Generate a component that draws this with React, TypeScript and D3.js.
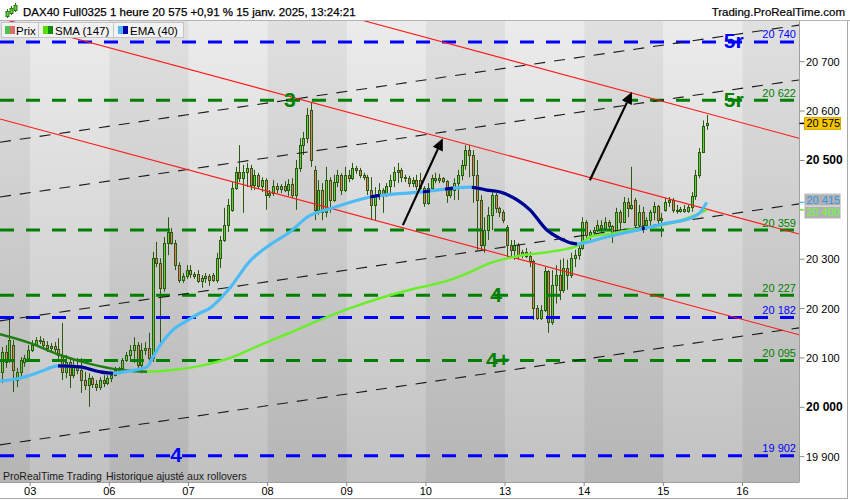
import React from 'react';
import * as d3 from 'd3';

// ---------------- data ----------------
const dayLabels = ['03', '06', '07', '08', '09', '10', '13', '14', '15', '16'];

// hourly candles [open, high, low, close]
const d02 = [
  [20072, 20122, 20049, 20112], [20112, 20126, 20080, 20092], [20096, 20181, 20090, 20136], [20126, 20136, 20031, 20076],
  [20055, 20080, 20041, 20072], [20072, 20102, 20061, 20096], [20092, 20106, 20082, 20100], [20100, 20126, 20096, 20116],
];
const d03 = [
  [20116, 20136, 20112, 20126], [20126, 20142, 20124, 20136], [20136, 20144, 20128, 20134], [20134, 20140, 20118, 20126],
  [20126, 20134, 20112, 20120], [20120, 20130, 20110, 20124], [20124, 20132, 20112, 20118], [20118, 20140, 20096, 20106],
  [20106, 20171, 20055, 20072], [20072, 20106, 20059, 20092], [20092, 20102, 20039, 20065], [20065, 20096, 20059, 20086],
  [20086, 20100, 20067, 20076], [20076, 20100, 20029, 20055], [20055, 20072, 20035, 20045], [20045, 20069, 20001, 20059],
  [20059, 20063, 20039, 20047], [20047, 20055, 20033, 20041], [20041, 20061, 20035, 20055], [20055, 20065, 20041, 20049],
  [20049, 20065, 20045, 20059],
];
const d06 = [
  [20059, 20072, 20051, 20065], [20065, 20082, 20063, 20076], [20076, 20082, 20067, 20080], [20080, 20100, 20078, 20096],
  [20096, 20112, 20092, 20106], [20106, 20126, 20096, 20116], [20116, 20142, 20090, 20126], [20126, 20132, 20072, 20086],
  [20086, 20130, 20069, 20116], [20116, 20132, 20106, 20120], [20120, 20151, 20092, 20100], [20100, 20315, 20092, 20302],
  [20302, 20335, 20284, 20292], [20292, 20302, 20130, 20242], [20242, 20345, 20234, 20333], [20333, 20385, 20308, 20355],
  [20355, 20363, 20329, 20333], [20333, 20339, 20278, 20288], [20288, 20294, 20252, 20258], [20258, 20272, 20252, 20266],
  [20266, 20288, 20260, 20278],
];
const d07 = [
  [20278, 20288, 20262, 20270], [20270, 20274, 20260, 20266], [20270, 20278, 20252, 20256], [20256, 20268, 20242, 20262],
  [20262, 20272, 20252, 20266], [20266, 20270, 20246, 20258], [20268, 20272, 20254, 20258], [20258, 20313, 20252, 20302],
  [20302, 20347, 20282, 20339], [20339, 20404, 20335, 20369], [20369, 20422, 20355, 20410], [20400, 20456, 20396, 20444],
  [20444, 20487, 20440, 20477], [20477, 20531, 20456, 20464], [20464, 20491, 20394, 20477], [20477, 20495, 20446, 20485],
  [20485, 20491, 20440, 20450], [20450, 20481, 20440, 20471], [20471, 20475, 20442, 20448], [20448, 20466, 20436, 20460],
  [20460, 20464, 20400, 20430],
];
const d08 = [
  [20430, 20440, 20424, 20434], [20434, 20460, 20428, 20448], [20448, 20454, 20434, 20442], [20442, 20452, 20434, 20448],
  [20448, 20458, 20436, 20440], [20440, 20462, 20428, 20452], [20452, 20464, 20424, 20430], [20430, 20501, 20400, 20485],
  [20485, 20545, 20477, 20531], [20531, 20558, 20511, 20545], [20545, 20606, 20535, 20592], [20602, 20618, 20487, 20501],
  [20481, 20489, 20379, 20400], [20400, 20460, 20390, 20440], [20440, 20454, 20379, 20396], [20396, 20487, 20385, 20460],
  [20460, 20466, 20394, 20420], [20420, 20471, 20416, 20456], [20456, 20481, 20446, 20471], [20471, 20474, 20430, 20440],
  [20440, 20487, 20436, 20471],
];
const d09 = [
  [20471, 20481, 20456, 20464], [20464, 20495, 20460, 20485], [20485, 20489, 20473, 20481], [20481, 20485, 20464, 20471],
  [20471, 20475, 20460, 20466], [20466, 20471, 20430, 20440], [20440, 20466, 20379, 20410], [20410, 20446, 20379, 20430],
  [20430, 20454, 20420, 20440], [20440, 20444, 20394, 20430], [20430, 20454, 20426, 20448], [20448, 20471, 20434, 20460],
  [20460, 20487, 20446, 20477], [20477, 20495, 20454, 20481], [20481, 20485, 20456, 20466], [20466, 20471, 20456, 20464],
  [20464, 20469, 20446, 20454], [20454, 20466, 20446, 20460], [20460, 20471, 20440, 20448], [20460, 20475, 20440, 20444],
  [20444, 20448, 20406, 20414],
];
const d10 = [
  [20414, 20454, 20410, 20444], [20444, 20471, 20440, 20464], [20464, 20475, 20454, 20460], [20460, 20473, 20454, 20464],
  [20464, 20466, 20454, 20458], [20458, 20460, 20414, 20430], [20430, 20446, 20424, 20440], [20440, 20464, 20420, 20454],
  [20454, 20481, 20420, 20471], [20471, 20501, 20460, 20491], [20491, 20531, 20481, 20521], [20521, 20531, 20466, 20511],
  [20511, 20521, 20414, 20471], [20471, 20501, 20319, 20420], [20420, 20430, 20319, 20329], [20329, 20385, 20313, 20359],
  [20359, 20406, 20339, 20390], [20390, 20440, 20359, 20430], [20430, 20440, 20394, 20404], [20404, 20406, 20385, 20396],
  [20396, 20400, 20373, 20379],
];
const d13 = [
  [20365, 20369, 20304, 20329], [20329, 20339, 20304, 20319], [20319, 20339, 20299, 20329], [20329, 20333, 20299, 20308],
  [20308, 20319, 20302, 20315], [20315, 20323, 20302, 20306], [20306, 20315, 20284, 20296], [20296, 20299, 20177, 20201],
  [20201, 20207, 20177, 20181], [20181, 20207, 20177, 20197], [20197, 20284, 20193, 20276], [20276, 20278, 20151, 20173],
  [20173, 20278, 20167, 20248], [20248, 20288, 20210, 20268], [20268, 20299, 20217, 20238], [20238, 20302, 20232, 20282],
  [20282, 20299, 20238, 20268], [20268, 20313, 20262, 20302], [20302, 20319, 20284, 20308], [20308, 20329, 20299, 20323],
  [20323, 20385, 20319, 20375],
];
const d14 = [
  [20375, 20379, 20333, 20349], [20349, 20359, 20339, 20355], [20355, 20365, 20347, 20359], [20359, 20379, 20355, 20369],
  [20369, 20379, 20353, 20363], [20363, 20385, 20359, 20375], [20375, 20379, 20359, 20367], [20367, 20369, 20333, 20355],
  [20355, 20404, 20353, 20396], [20396, 20400, 20359, 20375], [20375, 20426, 20373, 20416], [20416, 20424, 20385, 20404],
  [20404, 20487, 20400, 20410], [20420, 20424, 20359, 20369], [20369, 20410, 20359, 20396], [20396, 20406, 20353, 20369],
  [20369, 20385, 20359, 20379], [20379, 20400, 20365, 20396], [20396, 20416, 20379, 20408], [20408, 20410, 20365, 20379],
  [20379, 20394, 20345, 20383],
];
const d15 = [
  [20400, 20424, 20396, 20416], [20416, 20426, 20406, 20420], [20420, 20424, 20394, 20400], [20400, 20410, 20392, 20398],
  [20398, 20406, 20394, 20402], [20402, 20410, 20394, 20398], [20398, 20410, 20394, 20406], [20406, 20436, 20396, 20428],
  [20428, 20481, 20420, 20471], [20471, 20525, 20464, 20517], [20517, 20581, 20515, 20570], [20570, 20592, 20562, 20575],
];
const days = [d02, d03, d06, d07, d08, d09, d10, d13, d14, d15];

// EMA (40) sampled along the curve: [candle index, value]
const emaIdx = [-8.5, -3.2, 2.1, 6.9, 12.7, 18, 21.5, 26, 30.5, 32.1, 34, 37.4, 40.6, 44.6, 47.2, 52.5, 57.8, 63.1, 68.4, 73, 79.9, 89.7, 102.9, 116.2, 120.7, 124.2, 128.7, 132.1, 136.6, 139.3, 144.6, 152.5, 160.5, 168.5, 174.6, 177.2, 179];
const emaVal = [20053, 20059, 20072, 20084, 20082, 20072, 20069, 20074, 20082, 20102, 20126, 20157, 20173, 20191, 20201, 20242, 20296, 20329, 20355, 20385, 20404, 20426, 20436, 20446, 20440, 20436, 20420, 20400, 20359, 20345, 20331, 20345, 20359, 20373, 20383, 20394, 20415];
const emaDark = [[6.9, 21.5], [89.7, 92.3], [103.7, 105.6], [109.6, 111.7], [116.7, 144.6], [161.8, 162.6]];

// SMA (147)
const smaIdx = [-8.5, -0.5, 7.4, 15.4, 23.3, 30.5, 37.9, 44.6, 52.5, 60.5, 68.4, 76.4, 84.4, 92.3, 100.3, 110.9, 116.2, 121.5, 128.7, 137.4, 144.6, 148.8, 153.3, 160.5, 168.5, 174.6, 179];
const smaVal = [20148, 20130, 20106, 20088, 20076, 20072, 20076, 20084, 20100, 20126, 20151, 20177, 20201, 20221, 20238, 20258, 20274, 20292, 20306, 20315, 20327, 20347, 20351, 20361, 20371, 20385, 20400];
const smaDarkEnd = 30.5;

// horizontal levels
const levelValues = [20740, 20622, 20359, 20227, 20182, 20095, 19902];
const levelColors = ['#0000ff', '#008000', '#008000', '#008000', '#0000ff', '#008000', '#0000ff'];

// wave labels
const waveText = ['5r', '5r', '3', '4', '4+', '4'];
const waveIdx = [186.2, 186.2, 68.4, 123.1, 123.6, 38.2];
const waveVal = [20740, 20622, 20622, 20227, 20095, 19902];
const waveColors = ['#0000ff', '#008000', '#008000', '#008000', '#008000', '#0000ff'];

// trend lines [i1, v1, i2, v2]
const redLines = [[-8.5, 20584, 203.5, 20147], [-8.5, 20788, 203.5, 20351], [-8.5, 20982, 203.5, 20545]];
const blackLines = [[-8.5, 20537, 203.5, 20774], [-8.5, 20426, 203.5, 20663], [-8.5, 20175, 203.5, 20412], [-8.5, 19924, 203.5, 20161]];
const arrowLines = [[98.4, 20369, 109.0, 20545], [148.0, 20460, 159.2, 20639]];

const priceTicks = [19900, 20000, 20100, 20200, 20300, 20500, 20600, 20700];
const boldTicks = [20000, 20500];

// ---------------- chart ----------------
const FONT = 'Liberation Sans, Arial, sans-serif';
const fmt = (v: number) => {
  const s = Math.round(v).toString();
  return s.slice(0, s.length - 3) + ' ' + s.slice(-3);
};

export default function App() {
  const plotR = 799.5, plotT = 21, plotB = 482;
  const xScale = d3.scaleLinear().domain([-8, 204]).range([0, 799]);
  const yScale = d3.scaleLinear().domain([19900, 20700]).range([456.7, 61.7]);
  const cx = (i: number) => xScale(i + 0.5);

  const dayStart = (k: number) => (k === 0 ? -8 : (k - 1) * 21);
  const candles = days.flatMap((arr, k) =>
    arr.map((c, j) => ({ i: dayStart(k) + j, o: c[0], h: c[1], l: c[2], c: c[3] }))
  );
  const bounds = [-8, ...d3.range(0, 190, 21), 204];

  const lineGen = d3
    .line<number[]>()
    .x((d) => cx(d[0]))
    .y((d) => yScale(d[1]))
    .curve(d3.curveMonotoneX);
  const emaPath = lineGen(emaIdx.map((d, k) => [d, emaVal[k]])) || '';
  const smaPath = lineGen(smaIdx.map((d, k) => [d, smaVal[k]])) || '';

  const last = candles[candles.length - 1];
  const emaLast = emaVal[emaVal.length - 1];
  const smaLast = smaVal[smaVal.length - 1];
  // separate overlapping tags
  let yE = yScale(emaLast), yS = yScale(smaLast);
  if (Math.abs(yS - yE) < 12.5) {
    const m = (yE + yS) / 2;
    yE = m - 6.25;
    yS = m + 6.25;
  }

  const wick = '#2b5a0e';
  const upFill = '#62d043';
  const dnFill = '#e2806c';

  return (
    <div style={{ position: 'fixed', left: 0, top: 0 }}>
      <svg width={850} height={500} style={{ display: 'block', fontFamily: FONT }}>
        <defs>
          <linearGradient id="gLight" gradientUnits="userSpaceOnUse" x1="0" y1={plotT} x2="0" y2={plotB}>
            <stop offset="0" stopColor="#ececec" />
            <stop offset="1" stopColor="#c1c1c1" />
          </linearGradient>
          <linearGradient id="gDark" gradientUnits="userSpaceOnUse" x1="0" y1={plotT} x2="0" y2={plotB}>
            <stop offset="0" stopColor="#e0e0e0" />
            <stop offset="1" stopColor="#b5b5b5" />
          </linearGradient>
          <clipPath id="plotClip">
            <rect x={0} y={plotT} width={plotR} height={plotB - plotT} />
          </clipPath>
          <clipPath id="emaDarkClip">
            {emaDark.map((r, k) => (
              <rect key={k} x={cx(r[0])} y={0} width={cx(r[1]) - cx(r[0])} height={500} />
            ))}
          </clipPath>
          <clipPath id="smaDarkClip">
            <rect x={0} y={0} width={cx(smaDarkEnd)} height={500} />
          </clipPath>
          <clipPath id="smaLightClip">
            <rect x={cx(smaDarkEnd)} y={0} width={800} height={500} />
          </clipPath>
        </defs>

        {/* page background */}
        <rect x={0} y={0} width={850} height={500} fill="#ffffff" />

        {/* day bands */}
        {bounds.slice(0, -1).map((b, k) => (
          <rect
            key={k}
            x={xScale(b)}
            y={plotT}
            width={xScale(bounds[k + 1]) - xScale(b) + 0.5}
            height={plotB - plotT}
            fill={k % 2 === 0 ? 'url(#gDark)' : 'url(#gLight)'}
          />
        ))}

        <g clipPath="url(#plotClip)">
          {/* candles */}
          {candles.map((d, k) => {
            const px = Math.round(cx(d.i));
            const yo = yScale(d.o), yc = yScale(d.c);
            const top = Math.round(Math.min(yo, yc)) + 0.5;
            const hgt = Math.max(1, Math.round(Math.abs(yo - yc)));
            const up = d.c >= d.o;
            return (
              <g key={k}>
                <line x1={px + 0.5} x2={px + 0.5} y1={yScale(d.h)} y2={yScale(d.l)} stroke={wick} strokeWidth={1} />
                <rect x={px - 0.5} y={top} width={2} height={hgt} fill={up ? upFill : dnFill} stroke={wick} strokeWidth={1} />
              </g>
            );
          })}

          {/* horizontal levels */}
          {levelValues.map((v, k) => (
            <line
              key={k}
              x1={0}
              x2={797}
              y1={yScale(v)}
              y2={yScale(v)}
              stroke={levelColors[k]}
              strokeWidth={3}
              strokeDasharray="14 12"
            />
          ))}

          {/* black dashed channel */}
          {blackLines.map((l, k) => (
            <line
              key={k}
              x1={cx(l[0])}
              y1={yScale(l[1])}
              x2={cx(l[2])}
              y2={yScale(l[3])}
              stroke="#1a1a1a"
              strokeWidth={1.1}
              strokeDasharray="11 9"
            />
          ))}

          {/* red channel */}
          {redLines.map((l, k) => (
            <line key={k} x1={cx(l[0])} y1={yScale(l[1])} x2={cx(l[2])} y2={yScale(l[3])} stroke="#ff1a1a" strokeWidth={1.1} />
          ))}

          {/* SMA */}
          <path d={smaPath} fill="none" stroke="#1f7d12" strokeWidth={2.5} clipPath="url(#smaDarkClip)" />
          <path d={smaPath} fill="none" stroke="#6aee2a" strokeWidth={2.5} clipPath="url(#smaLightClip)" />

          {/* EMA */}
          <path d={emaPath} fill="none" stroke="#4dbcf6" strokeWidth={3.2} />
          <path d={emaPath} fill="none" stroke="#000090" strokeWidth={3.2} clipPath="url(#emaDarkClip)" />

          {/* arrows */}
          {arrowLines.map((a, k) => {
            const x1 = cx(a[0]), y1 = yScale(a[1]), x2 = cx(a[2]), y2 = yScale(a[3]);
            const ang = Math.atan2(y2 - y1, x2 - x1);
            const L = 12, Wd = 5.5;
            const bx = x2 - L * Math.cos(ang), by = y2 - L * Math.sin(ang);
            const pts = [
              [x2, y2],
              [bx + Wd * Math.sin(ang), by - Wd * Math.cos(ang)],
              [bx - Wd * Math.sin(ang), by + Wd * Math.cos(ang)],
            ];
            return (
              <g key={k}>
                <line x1={x1} y1={y1} x2={bx} y2={by} stroke="#000" strokeWidth={2.2} />
                <polygon points={pts.map((p) => p.join(',')).join(' ')} fill="#000" />
              </g>
            );
          })}

          {/* wave labels */}
          {waveText.map((t, k) => (
            <text
              key={k}
              x={cx(waveIdx[k])}
              y={yScale(waveVal[k]) + 6.5}
              textAnchor="middle"
              fontSize={21}
              fontWeight="bold"
              fill={waveColors[k]}
            >
              {t}
            </text>
          ))}

          {/* level value labels */}
          {levelValues.map((v, k) => (
            <text key={k} x={796} y={yScale(v) - 3.5} textAnchor="end" fontSize={11} fill={levelColors[k]}>
              {fmt(v)}
            </text>
          ))}
        </g>

        {/* legend row */}
        <g fontSize={11.5} fill="#000">
          <rect x={1.5} y={22.5} width={37} height={15} fill="#f2f2f2" stroke="#c4c4c4" />
          <rect x={5} y={26} width={5} height={8} fill="#4cc24c" />
          <rect x={10} y={26} width={5} height={8} fill="#e06a6a" />
          <text x={16} y={34.5}>Prix</text>

          <rect x={38.5} y={22.5} width={75} height={15} fill="#f2f2f2" stroke="#c4c4c4" />
          <rect x={43} y={26} width={5} height={8} fill="#55e000" />
          <rect x={48} y={26} width={5} height={8} fill="#118a11" />
          <text x={55} y={34.5}>SMA (147)</text>

          <rect x={113.5} y={22.5} width={70} height={15} fill="#f2f2f2" stroke="#c4c4c4" />
          <rect x={118} y={26} width={5} height={8} fill="#4fb8f5" />
          <rect x={123} y={26} width={5} height={8} fill="#0000a8" />
          <text x={130} y={34.5}>EMA (40)</text>
        </g>

        {/* footer note */}
        <text x={3} y={479.5} fontSize={10.5} fill="#1a1a1a">ProRealTime Trading</text>
        <text x={106} y={479.5} fontSize={10.5} fill="#1a1a1a">Historique ajusté aux rollovers</text>

        {/* header */}
        <rect x={0} y={0} width={850} height={20} fill="#ffffff" />
        <line x1={0} x2={850} y1={20.5} y2={20.5} stroke="#b4b4b4" />
        <g stroke="#2b7a0e" strokeWidth={1}>
          <line x1={7.5} x2={7.5} y1={9} y2={18} />
          <rect x={6} y={11.5} width={3} height={5} fill="#62d043" />
          <line x1={11.5} x2={11.5} y1={6} y2={15} />
          <rect x={10} y={8.5} width={3} height={5} fill="#62d043" />
          <line x1={15.5} x2={15.5} y1={3} y2={12} />
          <rect x={14} y={5.5} width={3} height={5} fill="#62d043" />
        </g>
        <text x={23} y={15.5} fontSize={11.5} fill="#000" stroke="#000" strokeWidth={0.25}>
          DAX40 Full0325 1 heure 20 575 +0,91 % 15 janv. 2025, 13:24:21
        </text>
        <text x={845} y={15.5} fontSize={11.5} fill="#000" stroke="#000" strokeWidth={0.2} textAnchor="end">
          Trading.ProRealTime.com
        </text>

        {/* plot borders */}
        <line x1={plotR} x2={plotR} y1={plotT} y2={plotB} stroke="#a0a0a0" />
        <line x1={0} x2={plotR} y1={plotB + 0.5} y2={plotB + 0.5} stroke="#a0a0a0" />
        <line x1={847.5} x2={847.5} y1={plotT} y2={498.5} stroke="#a8a8a8" />
        <line x1={0} x2={848} y1={498.5} y2={498.5} stroke="#a8a8a8" />

        {/* bottom axis */}
        {bounds.slice(1, -1).map((b, k) => (
          <g key={k}>
            <line x1={xScale(b)} x2={xScale(b)} y1={plotB} y2={plotB + 4} stroke="#888" />
            <text x={xScale(b)} y={495} textAnchor="middle" fontSize={11} fill="#000">
              {dayLabels[k]}
            </text>
          </g>
        ))}

        {/* right axis */}
        {priceTicks.map((v) => (
          <g key={v}>
            <line x1={plotR} x2={plotR + 5} y1={yScale(v)} y2={yScale(v)} stroke="#888" />
            <text
              x={806}
              y={yScale(v) + 4}
              fontSize={boldTicks.includes(v) ? 12 : 11}
              fontWeight={boldTicks.includes(v) ? 'bold' : 'normal'}
              fill="#000"
            >
              {fmt(v)}
            </text>
          </g>
        ))}

        {/* price tags */}
        <line x1={plotR} x2={plotR + 5} y1={yScale(last.c)} y2={yScale(last.c)} stroke="#000" strokeWidth={1.5} />
        <rect x={804.5} y={yScale(last.c) - 6} width={36} height={12} fill="#f7c600" stroke="#d9a900" />
        <text x={806.5} y={yScale(last.c) + 4} fontSize={11} fill="#000">{fmt(last.c)}</text>

        <line x1={plotR} x2={plotR + 5} y1={yScale(emaLast)} y2={yScale(emaLast)} stroke="#4dbcf6" strokeWidth={1.5} />
        <rect x={804.5} y={yE - 6} width={36} height={12} fill="#b1b1b1" stroke="#d6d6d6" />
        <text x={806.5} y={yE + 4} fontSize={11} fill="#2f96e6">{fmt(emaLast)}</text>

        <line x1={plotR} x2={plotR + 5} y1={yScale(smaLast)} y2={yScale(smaLast)} stroke="#6aee2a" strokeWidth={1.5} />
        <rect x={804.5} y={yS - 6} width={36} height={12} fill="#b1b1b1" stroke="#d6d6d6" />
        <text x={806.5} y={yS + 4} fontSize={11} fill="#66ff33">{fmt(smaLast)}</text>
      </svg>
    </div>
  );
}
